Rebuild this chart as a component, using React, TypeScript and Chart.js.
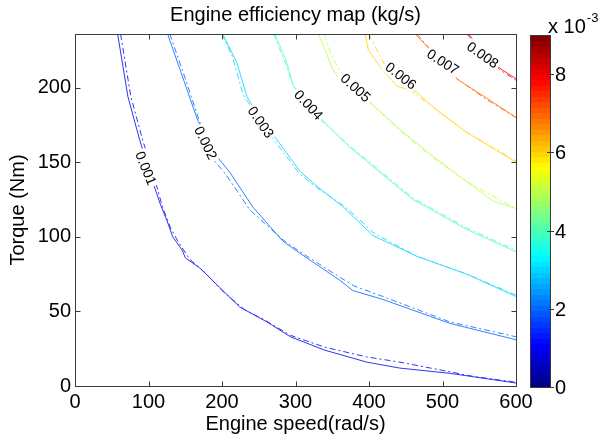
import React, { useEffect, useRef } from "react";
import { Chart, registerables } from "chart.js";

Chart.register(...registerables);

// ---------- data ----------
const levels = [0.001, 0.002, 0.003, 0.004, 0.005, 0.006, 0.007, 0.008];
const colorMax = 0.009;
const xTicks = [0, 100, 200, 300, 400, 500, 600];
const yTicks = [0, 50, 100, 150, 200];
const colorbarTicks = [0, 2, 4, 6, 8];
const xMax = 600;
const yMax = 236;

// solid contours (engine speed, torque)
const solid1 = [[58, 236], [72, 194], [88, 165], [105, 138], [116, 122], [125, 111], [133, 100], [146, 91], [150, 86], [170, 79], [197, 66], [224, 53], [261, 43], [293, 33], [340, 24], [397, 16], [442, 12], [510, 8.5], [600, 2]];
const solid2 = [[126, 236], [143, 212], [167, 178], [193, 154], [211, 143], [242, 120], [283, 97], [306, 89], [360, 71], [378, 64], [419, 58], [510, 42], [600, 31]];
const solid3 = [[201, 236], [220, 217], [234, 194], [253, 178], [272, 167], [306, 144], [329, 134], [365, 120], [384, 111], [405, 101], [465, 87], [533, 75], [600, 60]];
const solid4 = [[272, 236], [288, 217], [297, 201], [318, 189], [337, 178], [374, 160], [460, 125], [533, 105], [555, 100], [600, 90]];
const solid5 = [[331, 236], [340, 225.5], [351, 212], [363, 203], [404, 189], [442, 172], [487, 154], [533, 137], [569, 124], [600, 119]];
const solid6 = [[395, 236], [399, 225.5], [415, 214], [438, 201], [465, 197], [487, 187], [533, 170], [600, 150]];
const solid7 = [[463, 236], [483, 225.5], [519, 206], [560, 193], [600, 180]];
const solid8 = [[533, 236], [578, 213], [600, 206]];

// dash-dot contours
const dash1 = [[62, 236], [76, 194], [92, 165], [109, 138], [119, 120], [130, 106], [140, 97], [156, 85], [177, 76], [200, 64], [231, 51], [259, 44], [293, 34], [340, 26], [397, 19.5], [442, 16], [510, 9.5], [541, 6.5], [600, 2.5]];
const dash2 = [[129, 236], [146, 212], [169, 178], [188, 152], [205, 142], [238, 118], [283, 98], [306, 90], [360, 73], [380, 67], [419, 60], [510, 43], [600, 33]];
const dash3 = [[200, 236], [214, 221], [229, 195], [254, 177], [272, 164], [306, 142], [329, 133], [365, 121], [384, 113], [405, 103], [465, 87], [533, 75], [600, 61]];
const dash4 = [[270, 236], [286, 217], [296, 202], [337, 177], [374, 161], [460, 126], [533, 106], [600, 91]];
const dash5 = [[339, 236], [350, 220], [364, 209], [404, 189], [442, 171], [487, 153], [533, 137], [600, 119]];
const dash6 = [[400, 236], [415, 221], [429, 209], [470, 193], [487, 187], [533, 170], [600, 151]];
const dash7 = [[465, 236], [485, 225], [520, 206], [560, 192], [600, 180]];
const dash8 = [[535, 236], [578, 212], [600, 205]];

const solidLines = [solid1, solid2, solid3, solid4, solid5, solid6, solid7, solid8];
const dashLines = [dash1, dash2, dash3, dash4, dash5, dash6, dash7, dash8];

// contour label anchors (data coords) and text angle
const labelX = [96.6, 178, 253, 318, 382, 443.5, 500.7, 555];
const labelY = [146, 163, 177, 188.6, 200, 208, 217.4, 222];
const labelAngle = [68, 64, 55, 47, 42, 38, 33, 35];

const FONT = "'Liberation Sans', Arial, Helvetica, sans-serif";

function jetRGB(t: number): number[] {
  const c = (v: number) => Math.max(0, Math.min(1, v));
  return [c(1.5 - Math.abs(4 * t - 3)), c(1.5 - Math.abs(4 * t - 2)), c(1.5 - Math.abs(4 * t - 1))];
}
function jet(t: number): string {
  const [r, g, b] = jetRGB(t);
  return `rgb(${Math.round(r * 255)},${Math.round(g * 255)},${Math.round(b * 255)})`;
}
function softJet(t: number): string {
  const [r, g, b] = jetRGB(t);
  const m = (v: number) => Math.round((v * 0.8 + 0.2) * 255);
  return `rgb(${m(r)},${m(g)},${m(b)})`;
}

const framePlugin = {
  id: "matlabFrame",
  afterDatasetsDraw(chart: any) {
    const ctx = chart.ctx;
    const xs = chart.scales.x;
    const ys = chart.scales.y;
    ctx.save();
    ctx.font = `14px ${FONT}`;
    ctx.textAlign = "center";
    ctx.textBaseline = "middle";
    levels.forEach((lv, i) => {
      const px = xs.getPixelForValue(labelX[i]);
      const py = ys.getPixelForValue(labelY[i]);
      const txt = String(lv);
      const w = ctx.measureText(txt).width;
      ctx.save();
      ctx.translate(px, py);
      ctx.rotate((labelAngle[i] * Math.PI) / 180);
      ctx.fillStyle = "#fff";
      ctx.fillRect(-w / 2 - 2, -7, w + 4, 14);
      ctx.fillStyle = "#000";
      ctx.fillText(txt, 0, 1);
      ctx.restore();
    });
    ctx.restore();
  },
  afterDraw(chart: any) {
    const ctx = chart.ctx;
    const ca = chart.chartArea;
    const xs = chart.scales.x;
    const ys = chart.scales.y;
    const L = Math.round(ca.left) + 0.5;
    const R = Math.round(ca.right) + 0.5;
    const T = Math.round(ca.top) + 0.5;
    const B = Math.round(ca.bottom) + 0.5;
    ctx.save();
    ctx.strokeStyle = "#3a3a3a";
    ctx.lineWidth = 1;
    ctx.strokeRect(L, T, R - L, B - T);
    ctx.beginPath();
    xTicks.forEach((v) => {
      const x = Math.round(xs.getPixelForValue(v)) + 0.5;
      ctx.moveTo(x, B);
      ctx.lineTo(x, B - 5);
      ctx.moveTo(x, T);
      ctx.lineTo(x, T + 5);
    });
    yTicks.forEach((v) => {
      const y = Math.round(ys.getPixelForValue(v)) + 0.5;
      ctx.moveTo(L, y);
      ctx.lineTo(L + 5, y);
      ctx.moveTo(R, y);
      ctx.lineTo(R - 5, y);
    });
    ctx.stroke();

    // colorbar
    const cbL = Math.round(ca.right) + 14;
    const cbR = cbL + 20;
    const top = ca.top + 1;
    const bottom = ca.bottom + 1;
    const h = bottom - top;
    const n = 64;
    for (let i = 0; i < n; i++) {
      const y1 = bottom - ((i + 1) / n) * h;
      ctx.fillStyle = jet((i + 0.5) / n);
      ctx.fillRect(cbL, Math.floor(y1), cbR - cbL, Math.ceil(h / n) + 1);
    }
    ctx.strokeStyle = "#3a3a3a";
    ctx.strokeRect(cbL + 0.5, Math.round(top) + 0.5, cbR - cbL, Math.round(h));
    ctx.fillStyle = "#000";
    ctx.font = `20px ${FONT}`;
    ctx.textAlign = "left";
    ctx.textBaseline = "middle";
    ctx.beginPath();
    colorbarTicks.forEach((v) => {
      const y = Math.round(bottom - (v / (colorMax * 1000)) * h) + 0.5;
      ctx.moveTo(cbR - 3, y);
      ctx.lineTo(cbR + 4, y);
      ctx.fillText(String(v), cbR + 5, y + 1);
    });
    ctx.stroke();
    ctx.font = `20px ${FONT}`;
    ctx.fillText("x 10", cbL + 18, 27);
    const w = ctx.measureText("x 10").width;
    ctx.font = `13px ${FONT}`;
    ctx.fillText("-3", cbL + 18 + w + 1, 18);
    ctx.restore();
  },
};

export default function App() {
  const ref = useRef<HTMLCanvasElement>(null);
  useEffect(() => {
    document.body.style.margin = "0";
    const datasets: any[] = [];
    levels.forEach((lv, i) => {
      const col = softJet(lv / colorMax);
      datasets.push({
        data: solidLines[i].map(([x, y]) => ({ x, y })),
        borderColor: col,
        borderWidth: 1,
        pointRadius: 0,
        showLine: true,
        fill: false,
        tension: 0,
      });
      datasets.push({
        data: dashLines[i].map(([x, y]) => ({ x, y })),
        borderColor: col,
        borderWidth: 1,
        borderDash: [6, 3, 2, 3],
        pointRadius: 0,
        showLine: true,
        fill: false,
        tension: 0,
      });
    });
    const tickFont = { family: FONT, size: 20 };
    const chart = new Chart(ref.current as HTMLCanvasElement, {
      type: "scatter",
      data: { datasets },
      plugins: [framePlugin],
      options: {
        responsive: false,
        animation: false,
        events: [],
        layout: { padding: { left: 0, right: 83, top: 0, bottom: 0 } },
        plugins: {
          legend: { display: false },
          tooltip: { enabled: false },
          title: {
            display: true,
            text: "Engine efficiency map (kg/s)",
            fullSize: false,
            color: "#000",
            font: { family: FONT, size: 20, weight: "normal" },
            padding: { top: 3, bottom: 7 },
          },
        },
        scales: {
          x: {
            type: "linear",
            min: 0,
            max: xMax,
            grid: { display: false, drawTicks: false },
            border: { display: false },
            ticks: { color: "#000", font: tickFont, padding: 4, maxRotation: 0, includeBounds: false },
            afterBuildTicks: (s: any) => {
              s.ticks = xTicks.map((v) => ({ value: v }));
            },
            afterFit: (s: any) => {
              s.height = 55;
            },
            title: {
              display: true,
              text: "Engine speed(rad/s)",
              color: "#000",
              font: tickFont,
              padding: { top: 0, bottom: 5 },
            },
          },
          y: {
            type: "linear",
            min: 0,
            max: yMax,
            grid: { display: false, drawTicks: false },
            border: { display: false },
            ticks: { color: "#000", font: tickFont, padding: 4, includeBounds: false },
            afterBuildTicks: (s: any) => {
              s.ticks = yTicks.map((v) => ({ value: v }));
            },
            afterFit: (s: any) => {
              s.width = 75;
            },
            title: {
              display: true,
              text: "Torque (Nm)",
              color: "#000",
              font: tickFont,
              padding: { top: 6, bottom: 0 },
            },
          },
        },
      } as any,
    });
    return () => chart.destroy();
  }, []);
  return (
    <div style={{ position: "absolute", left: 0, top: 0 }}>
      <canvas ref={ref} width={599} height={441} style={{ display: "block" }} />
    </div>
  );
}
